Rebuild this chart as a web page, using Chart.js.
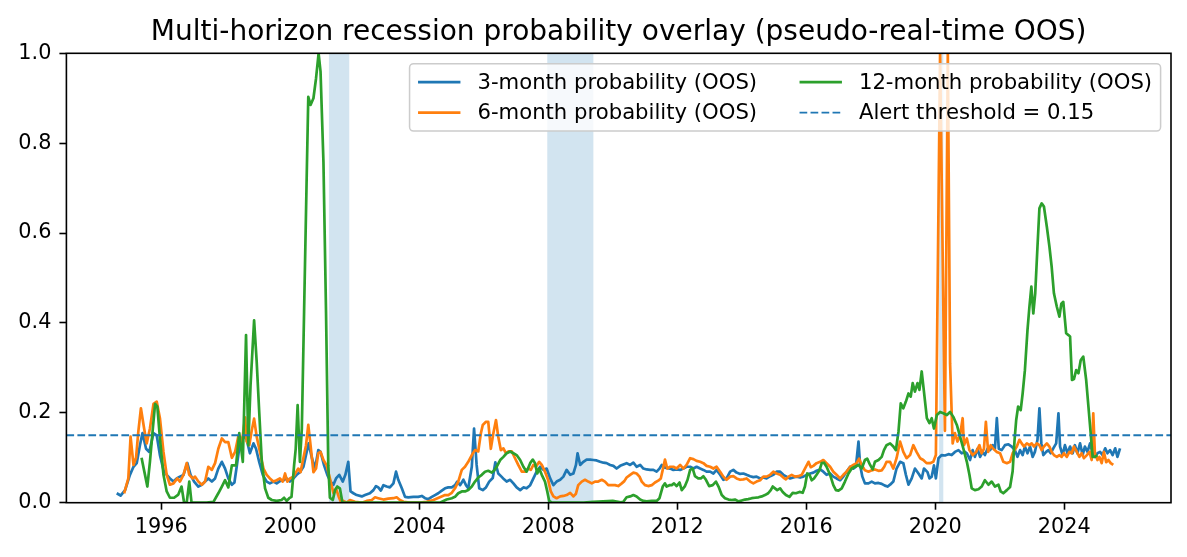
<!DOCTYPE html>
<html>
<head>
<meta charset="utf-8">
<script src="https://cdn.jsdelivr.net/npm/chart.js@4.4.1/dist/chart.umd.min.js"></script>
<style>
  html, body { margin: 0; padding: 0; background: #fff; }
  #c { display: block; }
</style>
</head>
<body>
<canvas id="c" width="1187" height="557"></canvas>
<script>
// --- data (decimal years, probabilities) ---

const blueDates = [
  1994.62, 1994.74, 1994.88, 1995.03, 1995.14, 1995.24, 1995.34, 1995.42, 1995.53, 1995.63,
  1995.76, 1995.86, 1995.96, 1996.07, 1996.17, 1996.27, 1996.38, 1996.48, 1996.58, 1996.69,
  1996.81, 1996.91, 1997.02, 1997.15, 1997.26, 1997.36, 1997.46, 1997.57, 1997.67, 1997.77,
  1997.88, 1997.98, 1998.08, 1998.19, 1998.27, 1998.34, 1998.44, 1998.55, 1998.65, 1998.75,
  1998.86, 1998.94, 1999.04, 1999.15, 1999.27, 1999.37, 1999.48, 1999.58, 1999.68, 1999.79,
  1999.89, 1999.99, 2000.10, 2000.20, 2000.30, 2000.41, 2000.51, 2000.57, 2000.67, 2000.77,
  2000.87, 2000.94, 2001.05, 2001.15, 2001.25, 2001.34, 2001.42, 2001.52, 2001.63, 2001.71,
  2001.80, 2001.87, 2001.96, 2002.06, 2002.22, 2002.32, 2002.47, 2002.58, 2002.66, 2002.73,
  2002.81, 2002.89, 2002.99, 2003.09, 2003.20, 2003.28, 2003.35, 2003.46, 2003.56, 2003.66,
  2003.82, 2003.97, 2004.08, 2004.18, 2004.28, 2004.39, 2004.49, 2004.59, 2004.70, 2004.80,
  2004.90, 2005.01, 2005.11, 2005.18, 2005.27, 2005.37, 2005.45, 2005.52, 2005.63, 2005.70,
  2005.78, 2005.86, 2005.97, 2006.07, 2006.17, 2006.28, 2006.36, 2006.45, 2006.55, 2006.63,
  2006.71, 2006.82, 2006.92, 2007.02, 2007.13, 2007.23, 2007.33, 2007.44, 2007.54, 2007.64,
  2007.75, 2007.85, 2007.95, 2008.06, 2008.16, 2008.26, 2008.37, 2008.47, 2008.57, 2008.68,
  2008.78, 2008.86, 2008.91, 2008.99, 2009.09, 2009.19, 2009.30, 2009.40, 2009.50, 2009.61,
  2009.71, 2009.81, 2009.92, 2010.02, 2010.12, 2010.23, 2010.33, 2010.43, 2010.54, 2010.64,
  2010.74, 2010.85, 2010.95, 2011.05, 2011.16, 2011.26, 2011.36, 2011.45, 2011.52, 2011.62,
  2011.78, 2011.88, 2011.98, 2012.09, 2012.19, 2012.29, 2012.40, 2012.50, 2012.60, 2012.71,
  2012.81, 2012.91, 2013.02, 2013.12, 2013.22, 2013.33, 2013.43, 2013.53, 2013.64, 2013.74,
  2013.84, 2013.95, 2014.05, 2014.15, 2014.26, 2014.36, 2014.46, 2014.57, 2014.67, 2014.77,
  2014.88, 2014.98, 2015.08, 2015.19, 2015.29, 2015.39, 2015.50, 2015.60, 2015.70, 2015.81,
  2015.91, 2016.01, 2016.12, 2016.22, 2016.32, 2016.43, 2016.53, 2016.63, 2016.74, 2016.84,
  2016.94, 2017.05, 2017.15, 2017.25, 2017.36, 2017.46, 2017.54, 2017.62, 2017.67, 2017.74,
  2017.82, 2017.93, 2018.03, 2018.13, 2018.24, 2018.34, 2018.44, 2018.52, 2018.60, 2018.70,
  2018.80, 2018.91, 2019.01, 2019.09, 2019.17, 2019.27, 2019.37, 2019.48, 2019.58, 2019.65,
  2019.76, 2019.82, 2019.89, 2019.96, 2020.02, 2020.10, 2020.20, 2020.30, 2020.41, 2020.51,
  2020.61, 2020.72, 2020.82, 2020.92, 2020.98, 2021.08, 2021.16, 2021.23, 2021.31, 2021.39,
  2021.47, 2021.54, 2021.62, 2021.70, 2021.78, 2021.85, 2021.91, 2021.97, 2022.06, 2022.16,
  2022.27, 2022.37, 2022.47, 2022.55, 2022.63, 2022.71, 2022.78, 2022.86, 2022.94, 2023.02,
  2023.09, 2023.17, 2023.23, 2023.29, 2023.35, 2023.44, 2023.51, 2023.58, 2023.66, 2023.75,
  2023.82, 2023.87, 2023.95, 2024.02, 2024.10, 2024.18, 2024.26, 2024.33, 2024.41, 2024.49,
  2024.57, 2024.64, 2024.72, 2024.80, 2024.88, 2024.95, 2025.03, 2025.11, 2025.19, 2025.27,
  2025.34, 2025.42, 2025.50, 2025.58, 2025.65, 2025.73
];
const blueProb = [
  0.021, 0.016, 0.028, 0.062, 0.080, 0.088, 0.128, 0.155, 0.120, 0.113,
  0.155, 0.150, 0.106, 0.073, 0.062, 0.054, 0.047, 0.054, 0.058, 0.062,
  0.088, 0.062, 0.047, 0.036, 0.040, 0.047, 0.054, 0.047, 0.054, 0.076,
  0.091, 0.076, 0.054, 0.040, 0.045, 0.080, 0.132, 0.150, 0.140, 0.110,
  0.132, 0.120, 0.090, 0.062, 0.047, 0.043, 0.047, 0.043, 0.048, 0.050,
  0.054, 0.047, 0.054, 0.062, 0.068, 0.080, 0.113, 0.132, 0.100, 0.076,
  0.117, 0.113, 0.083, 0.062, 0.047, 0.040, 0.054, 0.062, 0.047, 0.062,
  0.091, 0.025, 0.021, 0.017, 0.014, 0.017, 0.021, 0.028, 0.037, 0.034,
  0.027, 0.039, 0.036, 0.034, 0.043, 0.069, 0.051, 0.032, 0.013, 0.012,
  0.013, 0.013, 0.015, 0.010, 0.008, 0.013, 0.017, 0.021, 0.027, 0.032,
  0.034, 0.034, 0.039, 0.047, 0.039, 0.051, 0.039, 0.032, 0.080, 0.165,
  0.084, 0.032, 0.028, 0.034, 0.047, 0.055, 0.090, 0.065, 0.058, 0.052,
  0.047, 0.051, 0.043, 0.034, 0.028, 0.034, 0.032, 0.039, 0.054, 0.069,
  0.080, 0.073, 0.076, 0.054, 0.039, 0.047, 0.051, 0.058, 0.073, 0.062,
  0.065, 0.084, 0.110, 0.084, 0.091, 0.096, 0.096, 0.095, 0.094, 0.091,
  0.089, 0.088, 0.084, 0.082, 0.076, 0.082, 0.085, 0.088, 0.084, 0.089,
  0.080, 0.084, 0.076, 0.074, 0.073, 0.073, 0.069, 0.076, 0.084, 0.078,
  0.076, 0.073, 0.074, 0.073, 0.076, 0.080, 0.080, 0.076, 0.080, 0.076,
  0.073, 0.069, 0.069, 0.065, 0.073, 0.062, 0.051, 0.054, 0.069, 0.073,
  0.067, 0.064, 0.065, 0.062, 0.059, 0.057, 0.058, 0.054, 0.056, 0.054,
  0.059, 0.062, 0.069, 0.069, 0.062, 0.058, 0.054, 0.056, 0.058, 0.056,
  0.058, 0.062, 0.065, 0.067, 0.071, 0.074, 0.069, 0.062, 0.065, 0.058,
  0.054, 0.050, 0.058, 0.069, 0.080, 0.076, 0.080, 0.136, 0.084, 0.058,
  0.043, 0.043, 0.047, 0.043, 0.044, 0.042, 0.038, 0.036, 0.040, 0.047,
  0.076, 0.091, 0.088, 0.062, 0.040, 0.054, 0.076, 0.065, 0.054, 0.076,
  0.068, 0.054, 0.058, 0.083, 0.054, 0.099, 0.106, 0.105, 0.108, 0.106,
  0.113, 0.117, 0.110, 0.113, 0.110, 0.095, 0.117, 0.102, 0.120, 0.102,
  0.113, 0.106, 0.120, 0.117, 0.128, 0.120, 0.188, 0.120, 0.117, 0.128,
  0.130, 0.125, 0.117, 0.102, 0.117, 0.106, 0.125, 0.110, 0.125, 0.102,
  0.113, 0.140, 0.210, 0.132, 0.106, 0.113, 0.117, 0.110, 0.121, 0.132,
  0.199, 0.125, 0.106, 0.128, 0.110, 0.125, 0.110, 0.128, 0.110, 0.132,
  0.106, 0.125, 0.113, 0.132, 0.110, 0.102, 0.110, 0.113, 0.106, 0.121,
  0.110, 0.117, 0.106, 0.121, 0.102, 0.121
];

const orangeDates = [
  1994.85, 1994.98, 1995.05, 1995.14, 1995.22, 1995.29, 1995.37, 1995.47, 1995.55, 1995.65,
  1995.76, 1995.86, 1995.96, 1996.07, 1996.17, 1996.27, 1996.38, 1996.50, 1996.58, 1996.69,
  1996.79, 1996.87, 1996.98, 1997.05, 1997.15, 1997.26, 1997.36, 1997.46, 1997.57, 1997.67,
  1997.77, 1997.88, 1997.98, 1998.08, 1998.19, 1998.29, 1998.39, 1998.50, 1998.60, 1998.65,
  1998.73, 1998.81, 1998.88, 1998.96, 1999.04, 1999.17, 1999.27, 1999.37, 1999.48, 1999.58,
  1999.68, 1999.77, 1999.84, 1999.91, 1999.99, 2000.10, 2000.18, 2000.25, 2000.32, 2000.41,
  2000.49, 2000.56, 2000.63, 2000.72, 2000.80, 2000.87, 2000.94, 2001.03, 2001.13, 2001.23,
  2001.34, 2001.42, 2001.50, 2001.58, 2001.65, 2001.75, 2001.85, 2002.01, 2002.22, 2002.37,
  2002.53, 2002.63, 2002.73, 2002.89, 2003.04, 2003.20, 2003.30, 2003.40, 2003.51, 2003.71,
  2004.02, 2004.23, 2004.44, 2004.64, 2004.80, 2004.90, 2005.01, 2005.11, 2005.21, 2005.32,
  2005.42, 2005.52, 2005.63, 2005.73, 2005.83, 2005.91, 2005.97, 2006.07, 2006.14, 2006.22,
  2006.30, 2006.38, 2006.45, 2006.53, 2006.61, 2006.69, 2006.76, 2006.87, 2006.97, 2007.07,
  2007.18, 2007.28, 2007.38, 2007.46, 2007.54, 2007.62, 2007.72, 2007.80, 2007.90, 2008.00,
  2008.08, 2008.16, 2008.26, 2008.37, 2008.47, 2008.57, 2008.68, 2008.78, 2008.86, 2008.93,
  2009.04, 2009.14, 2009.24, 2009.35, 2009.45, 2009.55, 2009.66, 2009.76, 2009.86, 2009.97,
  2010.07, 2010.17, 2010.28, 2010.36, 2010.43, 2010.54, 2010.64, 2010.74, 2010.83, 2010.90,
  2011.00, 2011.10, 2011.21, 2011.31, 2011.41, 2011.49, 2011.55, 2011.62, 2011.69, 2011.78,
  2011.88, 2011.98, 2012.09, 2012.19, 2012.29, 2012.40, 2012.50, 2012.60, 2012.71, 2012.81,
  2012.91, 2013.02, 2013.12, 2013.22, 2013.33, 2013.43, 2013.53, 2013.64, 2013.74, 2013.84,
  2013.95, 2014.05, 2014.15, 2014.26, 2014.36, 2014.46, 2014.57, 2014.67, 2014.77, 2014.88,
  2014.98, 2015.08, 2015.19, 2015.29, 2015.37, 2015.45, 2015.55, 2015.65, 2015.76, 2015.86,
  2015.96, 2016.07, 2016.14, 2016.22, 2016.32, 2016.43, 2016.53, 2016.63, 2016.74, 2016.84,
  2016.94, 2017.05, 2017.15, 2017.25, 2017.36, 2017.46, 2017.56, 2017.64, 2017.72, 2017.82,
  2017.93, 2018.03, 2018.13, 2018.24, 2018.34, 2018.42, 2018.49, 2018.60, 2018.70, 2018.80,
  2018.91, 2019.01, 2019.11, 2019.22, 2019.32, 2019.42, 2019.53, 2019.63, 2019.73, 2019.84,
  2019.94, 2020.02, 2020.15, 2020.30, 2020.39, 2020.46, 2020.54, 2020.61, 2020.69, 2020.77,
  2020.85, 2020.89, 2020.98, 2021.06, 2021.16, 2021.27, 2021.37, 2021.44, 2021.51, 2021.57,
  2021.64, 2021.72, 2021.80, 2021.91, 2022.01, 2022.11, 2022.22, 2022.32, 2022.40, 2022.53,
  2022.61, 2022.68, 2022.75, 2022.84, 2022.92, 2022.99, 2023.06, 2023.15, 2023.23, 2023.30,
  2023.37, 2023.46, 2023.54, 2023.61, 2023.68, 2023.77, 2023.85, 2023.92, 2023.99, 2024.08,
  2024.16, 2024.23, 2024.30, 2024.39, 2024.47, 2024.54, 2024.61, 2024.70, 2024.78, 2024.85,
  2024.90, 2024.95, 2025.03, 2025.09, 2025.16, 2025.23, 2025.30, 2025.37, 2025.44, 2025.52
];
const orangeProb = [
  0.021, 0.054, 0.147, 0.084, 0.100, 0.158, 0.210, 0.165, 0.132, 0.165,
  0.220, 0.225, 0.188, 0.113, 0.062, 0.040, 0.043, 0.054, 0.047, 0.062,
  0.088, 0.062, 0.054, 0.058, 0.047, 0.040, 0.047, 0.080, 0.073, 0.088,
  0.120, 0.143, 0.135, 0.135, 0.100, 0.113, 0.147, 0.132, 0.190, 0.136,
  0.128, 0.162, 0.187, 0.147, 0.120, 0.076, 0.062, 0.054, 0.047, 0.050,
  0.054, 0.047, 0.065, 0.047, 0.054, 0.058, 0.068, 0.076, 0.068, 0.100,
  0.128, 0.173, 0.128, 0.068, 0.076, 0.110, 0.113, 0.095, 0.083, 0.054,
  0.021, 0.032, 0.014, 0.000, 0.004, 0.000, 0.006, 0.002, 0.000, 0.004,
  0.006, 0.012, 0.010, 0.007, 0.009, 0.010, 0.012, 0.006, 0.002, 0.000,
  0.000, 0.002, 0.006, 0.012, 0.017, 0.017, 0.022, 0.032, 0.047, 0.073,
  0.080, 0.091, 0.106, 0.117, 0.114, 0.154, 0.173, 0.180, 0.180, 0.120,
  0.155, 0.184, 0.147, 0.117, 0.121, 0.110, 0.114, 0.114, 0.099, 0.084,
  0.069, 0.069, 0.076, 0.073, 0.084, 0.080, 0.091, 0.084, 0.069, 0.050,
  0.025, 0.014, 0.010, 0.014, 0.015, 0.017, 0.022, 0.014, 0.020, 0.039,
  0.047, 0.051, 0.047, 0.043, 0.047, 0.047, 0.051, 0.047, 0.039, 0.039,
  0.039, 0.037, 0.043, 0.048, 0.056, 0.062, 0.067, 0.065, 0.058, 0.047,
  0.039, 0.037, 0.039, 0.045, 0.049, 0.054, 0.073, 0.096, 0.076, 0.080,
  0.080, 0.076, 0.084, 0.076, 0.084, 0.099, 0.097, 0.093, 0.091, 0.088,
  0.082, 0.080, 0.076, 0.080, 0.069, 0.058, 0.051, 0.058, 0.059, 0.054,
  0.051, 0.052, 0.054, 0.047, 0.043, 0.047, 0.050, 0.058, 0.058, 0.062,
  0.069, 0.065, 0.062, 0.056, 0.052, 0.058, 0.062, 0.058, 0.059, 0.062,
  0.076, 0.091, 0.079, 0.082, 0.088, 0.091, 0.095, 0.088, 0.080, 0.069,
  0.062, 0.054, 0.062, 0.069, 0.079, 0.084, 0.088, 0.098, 0.084, 0.072,
  0.069, 0.072, 0.074, 0.071, 0.072, 0.080, 0.091, 0.091, 0.076, 0.099,
  0.136, 0.113, 0.099, 0.106, 0.128, 0.113, 0.099, 0.095, 0.088, 0.088,
  0.091, 0.106, 1.000, 0.160, 1.000, 0.310, 0.132, 0.155, 0.136, 0.150,
  0.188, 0.128, 0.143, 0.117, 0.106, 0.113, 0.128, 0.110, 0.120, 0.180,
  0.113, 0.128, 0.120, 0.113, 0.110, 0.091, 0.088, 0.091, 0.110, 0.125,
  0.140, 0.132, 0.125, 0.132, 0.128, 0.132, 0.125, 0.132, 0.128, 0.117,
  0.125, 0.132, 0.125, 0.113, 0.106, 0.102, 0.106, 0.102, 0.110, 0.102,
  0.113, 0.110, 0.125, 0.113, 0.102, 0.110, 0.099, 0.106, 0.113, 0.095,
  0.199, 0.110, 0.095, 0.102, 0.088, 0.113, 0.090, 0.095, 0.088, 0.084
];

const greenDates = [
  1995.39, 1995.48, 1995.57, 1995.65, 1995.74, 1995.81, 1995.88, 1995.96, 1996.07, 1996.17,
  1996.27, 1996.40, 1996.53, 1996.63, 1996.71, 1996.79, 1996.87, 1996.94, 1997.10, 1997.41,
  1997.62, 1997.77, 1997.88, 1997.98, 1998.08, 1998.19, 1998.32, 1998.42, 1998.53, 1998.63,
  1998.70, 1998.77, 1998.88, 1998.96, 1999.04, 1999.12, 1999.22, 1999.32, 1999.43, 1999.58,
  1999.73, 1999.81, 1999.89, 1999.97, 2000.04, 2000.12, 2000.17, 2000.23, 2000.30, 2000.36,
  2000.43, 2000.51, 2000.56, 2000.63, 2000.72, 2000.80, 2000.88, 2000.94, 2001.03, 2001.11,
  2001.18, 2001.23, 2001.32, 2001.39, 2001.46, 2001.54, 2001.62, 2001.75, 2002.25, 2002.75,
  2003.25, 2003.75, 2004.25, 2004.64, 2004.85, 2005.01, 2005.11, 2005.21, 2005.32, 2005.42,
  2005.52, 2005.63, 2005.73, 2005.83, 2005.94, 2006.04, 2006.14, 2006.25, 2006.33, 2006.40,
  2006.51, 2006.61, 2006.71, 2006.82, 2006.92, 2007.02, 2007.13, 2007.23, 2007.33, 2007.44,
  2007.52, 2007.59, 2007.66, 2007.72, 2007.80, 2007.90, 2007.97, 2008.03, 2008.11, 2008.60,
  2009.10, 2009.40, 2009.70, 2010.00, 2010.25, 2010.33, 2010.43, 2010.54, 2010.64, 2010.74,
  2010.85, 2010.95, 2011.05, 2011.21, 2011.36, 2011.45, 2011.55, 2011.62, 2011.67, 2011.76,
  2011.83, 2011.90, 2011.98, 2012.07, 2012.14, 2012.24, 2012.32, 2012.40, 2012.48, 2012.55,
  2012.65, 2012.73, 2012.81, 2012.89, 2012.99, 2013.10, 2013.20, 2013.28, 2013.38, 2013.48,
  2013.59, 2013.69, 2013.79, 2013.90, 2014.00, 2014.10, 2014.20, 2014.31, 2014.41, 2014.52,
  2014.62, 2014.72, 2014.82, 2014.90, 2014.96, 2015.03, 2015.10, 2015.19, 2015.27, 2015.37,
  2015.48, 2015.58, 2015.68, 2015.79, 2015.89, 2015.96, 2016.03, 2016.10, 2016.17, 2016.24,
  2016.32, 2016.41, 2016.48, 2016.55, 2016.63, 2016.74, 2016.84, 2016.92, 2017.00, 2017.10,
  2017.20, 2017.31, 2017.41, 2017.51, 2017.62, 2017.72, 2017.82, 2017.89, 2017.98, 2018.06,
  2018.13, 2018.24, 2018.34, 2018.41, 2018.49, 2018.60, 2018.70, 2018.78, 2018.86, 2018.93,
  2019.01, 2019.09, 2019.17, 2019.24, 2019.30, 2019.37, 2019.45, 2019.51, 2019.58, 2019.65,
  2019.74, 2019.82, 2019.89, 2019.96, 2020.05, 2020.15, 2020.25, 2020.36, 2020.46, 2020.56,
  2020.67, 2020.77, 2020.87, 2020.98, 2021.06, 2021.13, 2021.23, 2021.34, 2021.44, 2021.54,
  2021.65, 2021.75, 2021.85, 2021.96, 2022.03, 2022.11, 2022.22, 2022.32, 2022.40, 2022.46,
  2022.51, 2022.57, 2022.65, 2022.71, 2022.78, 2022.86, 2022.92, 2022.98, 2023.04, 2023.10,
  2023.17, 2023.23, 2023.30, 2023.37, 2023.46, 2023.54, 2023.61, 2023.68, 2023.77, 2023.85,
  2023.91, 2023.97, 2024.06, 2024.13, 2024.18, 2024.24, 2024.30, 2024.37, 2024.44, 2024.51,
  2024.59, 2024.68, 2024.75, 2024.82, 2024.88, 2024.95, 2025.03
];
const greenProb = [
  0.100, 0.068, 0.036, 0.091, 0.165, 0.220, 0.214, 0.143, 0.062, 0.025,
  0.011, 0.011, 0.018, 0.036, 0.000, 0.000, 0.047, 0.000, 0.000, 0.000,
  0.002, 0.021, 0.036, 0.050, 0.034, 0.083, 0.083, 0.155, 0.091, 0.373,
  0.128, 0.262, 0.406, 0.314, 0.200, 0.090, 0.032, 0.011, 0.006, 0.004,
  0.006, 0.011, 0.004, 0.010, 0.013, 0.083, 0.120, 0.217, 0.091, 0.165,
  0.425, 0.722, 0.903, 0.885, 0.900, 0.944, 1.000, 0.959, 0.759, 0.425,
  0.083, 0.011, 0.006, 0.028, 0.036, 0.032, 0.000, 0.000, 0.000, 0.000,
  0.000, 0.000, 0.000, 0.000, 0.007, 0.010, 0.013, 0.021, 0.025, 0.025,
  0.028, 0.036, 0.047, 0.056, 0.062, 0.069, 0.071, 0.067, 0.072, 0.080,
  0.095, 0.102, 0.110, 0.114, 0.110, 0.106, 0.095, 0.080, 0.069, 0.088,
  0.096, 0.088, 0.065, 0.076, 0.062, 0.047, 0.025, 0.004, 0.000, 0.000,
  0.000, 0.002, 0.003, 0.004, 0.001, 0.002, 0.012, 0.014, 0.017, 0.014,
  0.007, 0.004, 0.003, 0.004, 0.004, 0.010, 0.036, 0.043, 0.036, 0.039,
  0.039, 0.043, 0.037, 0.045, 0.028, 0.037, 0.051, 0.073, 0.076, 0.059,
  0.054, 0.054, 0.059, 0.051, 0.037, 0.039, 0.047, 0.036, 0.017, 0.010,
  0.007, 0.006, 0.007, 0.003, 0.005, 0.007, 0.008, 0.010, 0.011, 0.012,
  0.014, 0.017, 0.021, 0.028, 0.036, 0.032, 0.028, 0.032, 0.024, 0.017,
  0.013, 0.022, 0.021, 0.024, 0.022, 0.036, 0.065, 0.062, 0.050, 0.054,
  0.062, 0.072, 0.088, 0.089, 0.080, 0.062, 0.039, 0.028, 0.027, 0.032,
  0.047, 0.065, 0.076, 0.080, 0.084, 0.076, 0.095, 0.098, 0.084, 0.074,
  0.091, 0.095, 0.102, 0.117, 0.128, 0.132, 0.125, 0.117, 0.158, 0.221,
  0.210, 0.225, 0.243, 0.236, 0.266, 0.247, 0.266, 0.251, 0.292, 0.247,
  0.188, 0.177, 0.188, 0.165, 0.195, 0.202, 0.199, 0.195, 0.202, 0.191,
  0.173, 0.147, 0.121, 0.091, 0.062, 0.032, 0.028, 0.030, 0.036, 0.050,
  0.040, 0.047, 0.036, 0.040, 0.025, 0.021, 0.028, 0.035, 0.070, 0.140,
  0.184, 0.214, 0.206, 0.243, 0.295, 0.384, 0.436, 0.481, 0.421, 0.466,
  0.570, 0.655, 0.666, 0.659, 0.614, 0.570, 0.525, 0.466, 0.436, 0.414,
  0.443, 0.447, 0.377, 0.373, 0.370, 0.273, 0.275, 0.295, 0.288, 0.317,
  0.325, 0.273, 0.214, 0.154, 0.102, 0.102, 0.106
];

const recessionStart = [2001.20, 2007.97, 2020.12];
const recessionEnd   = [2001.83, 2009.40, 2020.25];
const threshold = 0.15;

const xTickYears = [1996, 2000, 2004, 2008, 2012, 2016, 2020, 2024];
const yTickValues = [0.0, 0.2, 0.4, 0.6, 0.8, 1.0];
const xMin = 1993.06, xMax = 2027.31;

const seriesLabels = ['3-month probability (OOS)', '6-month probability (OOS)',
                      '12-month probability (OOS)', 'Alert threshold = 0.15'];
const titleText = 'Multi-horizon recession probability overlay (pseudo-real-time OOS)';

// --- styling ---
const C0 = '#1f77b4', C1 = '#ff7f0e', C2 = '#2ca02c';
const FS = 20.8;            // tick labels
const LFS = 21.2;           // legend text
const TFS = 28;             // title
const FONT = '"DejaVu Sans", sans-serif';
const LW = 2.7;

function pts(dates, vals) {
  return dates.map((d, i) => ({ x: d, y: vals[i] }));
}

const decor = {
  id: 'decor',
  beforeDatasetsDraw(chart) {
    const { ctx, chartArea: a, scales: { x } } = chart;
    ctx.save();
    ctx.fillStyle = 'rgba(31,119,180,0.2)';
    recessionStart.forEach((s, i) => {
      const x0 = x.getPixelForValue(s), x1 = x.getPixelForValue(recessionEnd[i]);
      ctx.fillRect(x0, a.top, x1 - x0, a.bottom - a.top);
    });
    ctx.restore();
  },
  afterDatasetsDraw(chart) {
    const { ctx, chartArea: a, scales: { y } } = chart;

    // alert threshold
    const py = y.getPixelForValue(threshold);
    ctx.save();
    ctx.strokeStyle = C0;
    ctx.lineWidth = 1.9;
    ctx.setLineDash([7.7, 3.3]);
    ctx.beginPath();
    ctx.moveTo(a.left, py);
    ctx.lineTo(a.right, py);
    ctx.stroke();
    ctx.restore();

    // spines
    ctx.save();
    ctx.strokeStyle = '#000';
    ctx.lineWidth = 1.6;
    ctx.strokeRect(a.left, a.top, a.right - a.left, a.bottom - a.top);
    ctx.restore();

    // title
    ctx.save();
    ctx.font = `${TFS}px ${FONT}`;
    ctx.fillStyle = '#000';
    ctx.textAlign = 'center';
    ctx.textBaseline = 'alphabetic';
    ctx.fillText(titleText, (a.left + a.right) / 2, a.top - 13);
    ctx.restore();

    drawLegend(chart);
  }
};

function drawLegend(chart) {
  const { ctx, chartArea: a } = chart;
  const items = [
    { label: seriesLabels[0], color: C0, dash: [] },
    { label: seriesLabels[1], color: C1, dash: [] },
    { label: seriesLabels[2], color: C2, dash: [] },
    { label: seriesLabels[3], color: C0, dash: [7.7, 3.3] }
  ];
  const cols = [[0, 1], [2, 3]];
  const handle = 2.0 * LFS, textPad = 0.8 * LFS, colSp = 2.0 * LFS;
  const bPad = 0.4 * LFS, axPad = 0.5 * FS, rowH = 0.94 * LFS, rowSp = 0.5 * LFS;

  ctx.save();
  ctx.font = `${LFS}px ${FONT}`;
  const colW = cols.map(c => handle + textPad + Math.max(...c.map(i => ctx.measureText(items[i].label).width)));
  const boxW = 2 * bPad + colW[0] + colSp + colW[1];
  const boxH = 2 * bPad + 2 * rowH + rowSp;
  const bx = a.right - axPad - boxW, by = a.top + axPad;

  ctx.beginPath();
  ctx.roundRect(bx, by, boxW, boxH, 4);
  ctx.fillStyle = 'rgba(255,255,255,0.8)';
  ctx.fill();
  ctx.strokeStyle = '#cccccc';
  ctx.lineWidth = 1.5;
  ctx.stroke();

  let cx = bx + bPad;
  cols.forEach((c, ci) => {
    c.forEach((idx, r) => {
      const it = items[idx];
      const cy = by + bPad + rowH / 2 + r * (rowH + rowSp);
      ctx.beginPath();
      ctx.setLineDash(it.dash);
      ctx.strokeStyle = it.color;
      ctx.lineWidth = it.dash.length ? 1.9 : LW;
      ctx.moveTo(cx, cy);
      ctx.lineTo(cx + handle, cy);
      ctx.stroke();
      ctx.setLineDash([]);
      ctx.fillStyle = '#000';
      ctx.textAlign = 'left';
      ctx.textBaseline = 'middle';
      ctx.fillText(it.label, cx + handle + textPad, cy + 1);
    });
    cx += colW[ci] + colSp;
  });
  ctx.restore();
}

const axisGrid = {
  display: true,
  drawOnChartArea: false,
  drawTicks: true,
  tickLength: 7,
  tickWidth: 1.6,
  tickColor: '#000'
};

new Chart(document.getElementById('c'), {
  type: 'line',
  data: {
    datasets: [
      { label: seriesLabels[0], data: pts(blueDates, blueProb), borderColor: C0, order: 3, clip: 0 },
      { label: seriesLabels[1], data: pts(orangeDates, orangeProb), borderColor: C1, order: 2, clip: 0 },
      { label: seriesLabels[2], data: pts(greenDates, greenProb), borderColor: C2, order: 1, clip: 0 }
    ]
  },
  options: {
    responsive: false,
    animation: false,
    devicePixelRatio: 1,
    layout: { padding: { top: 53.3, right: 16, bottom: 0, left: 0 } },
    elements: {
      point: { radius: 0, hoverRadius: 0 },
      line: { borderWidth: LW, tension: 0, fill: false, borderJoinStyle: 'round' }
    },
    plugins: {
      legend: { display: false },
      title: { display: false },
      tooltip: { enabled: false }
    },
    scales: {
      x: {
        type: 'linear',
        min: xMin,
        max: xMax,
        afterBuildTicks: s => { s.ticks = xTickYears.map(v => ({ value: v })); },
        afterFit: s => { s.height = 54.3; },
        grid: axisGrid,
        border: { display: false },
        ticks: {
          color: '#000',
          font: { family: FONT, size: FS },
          padding: 5,
          maxRotation: 0,
          autoSkip: false,
          callback: v => String(v)
        }
      },
      y: {
        type: 'linear',
        min: 0,
        max: 1,
        afterBuildTicks: s => { s.ticks = yTickValues.map(v => ({ value: v })); },
        afterFit: s => { s.width = 66.4; },
        grid: axisGrid,
        border: { display: false },
        ticks: {
          color: '#000',
          font: { family: FONT, size: FS },
          padding: 8,
          autoSkip: false,
          callback: v => Number(v).toFixed(1)
        }
      }
    }
  },
  plugins: [decor]
});
</script>
</body>
</html>
